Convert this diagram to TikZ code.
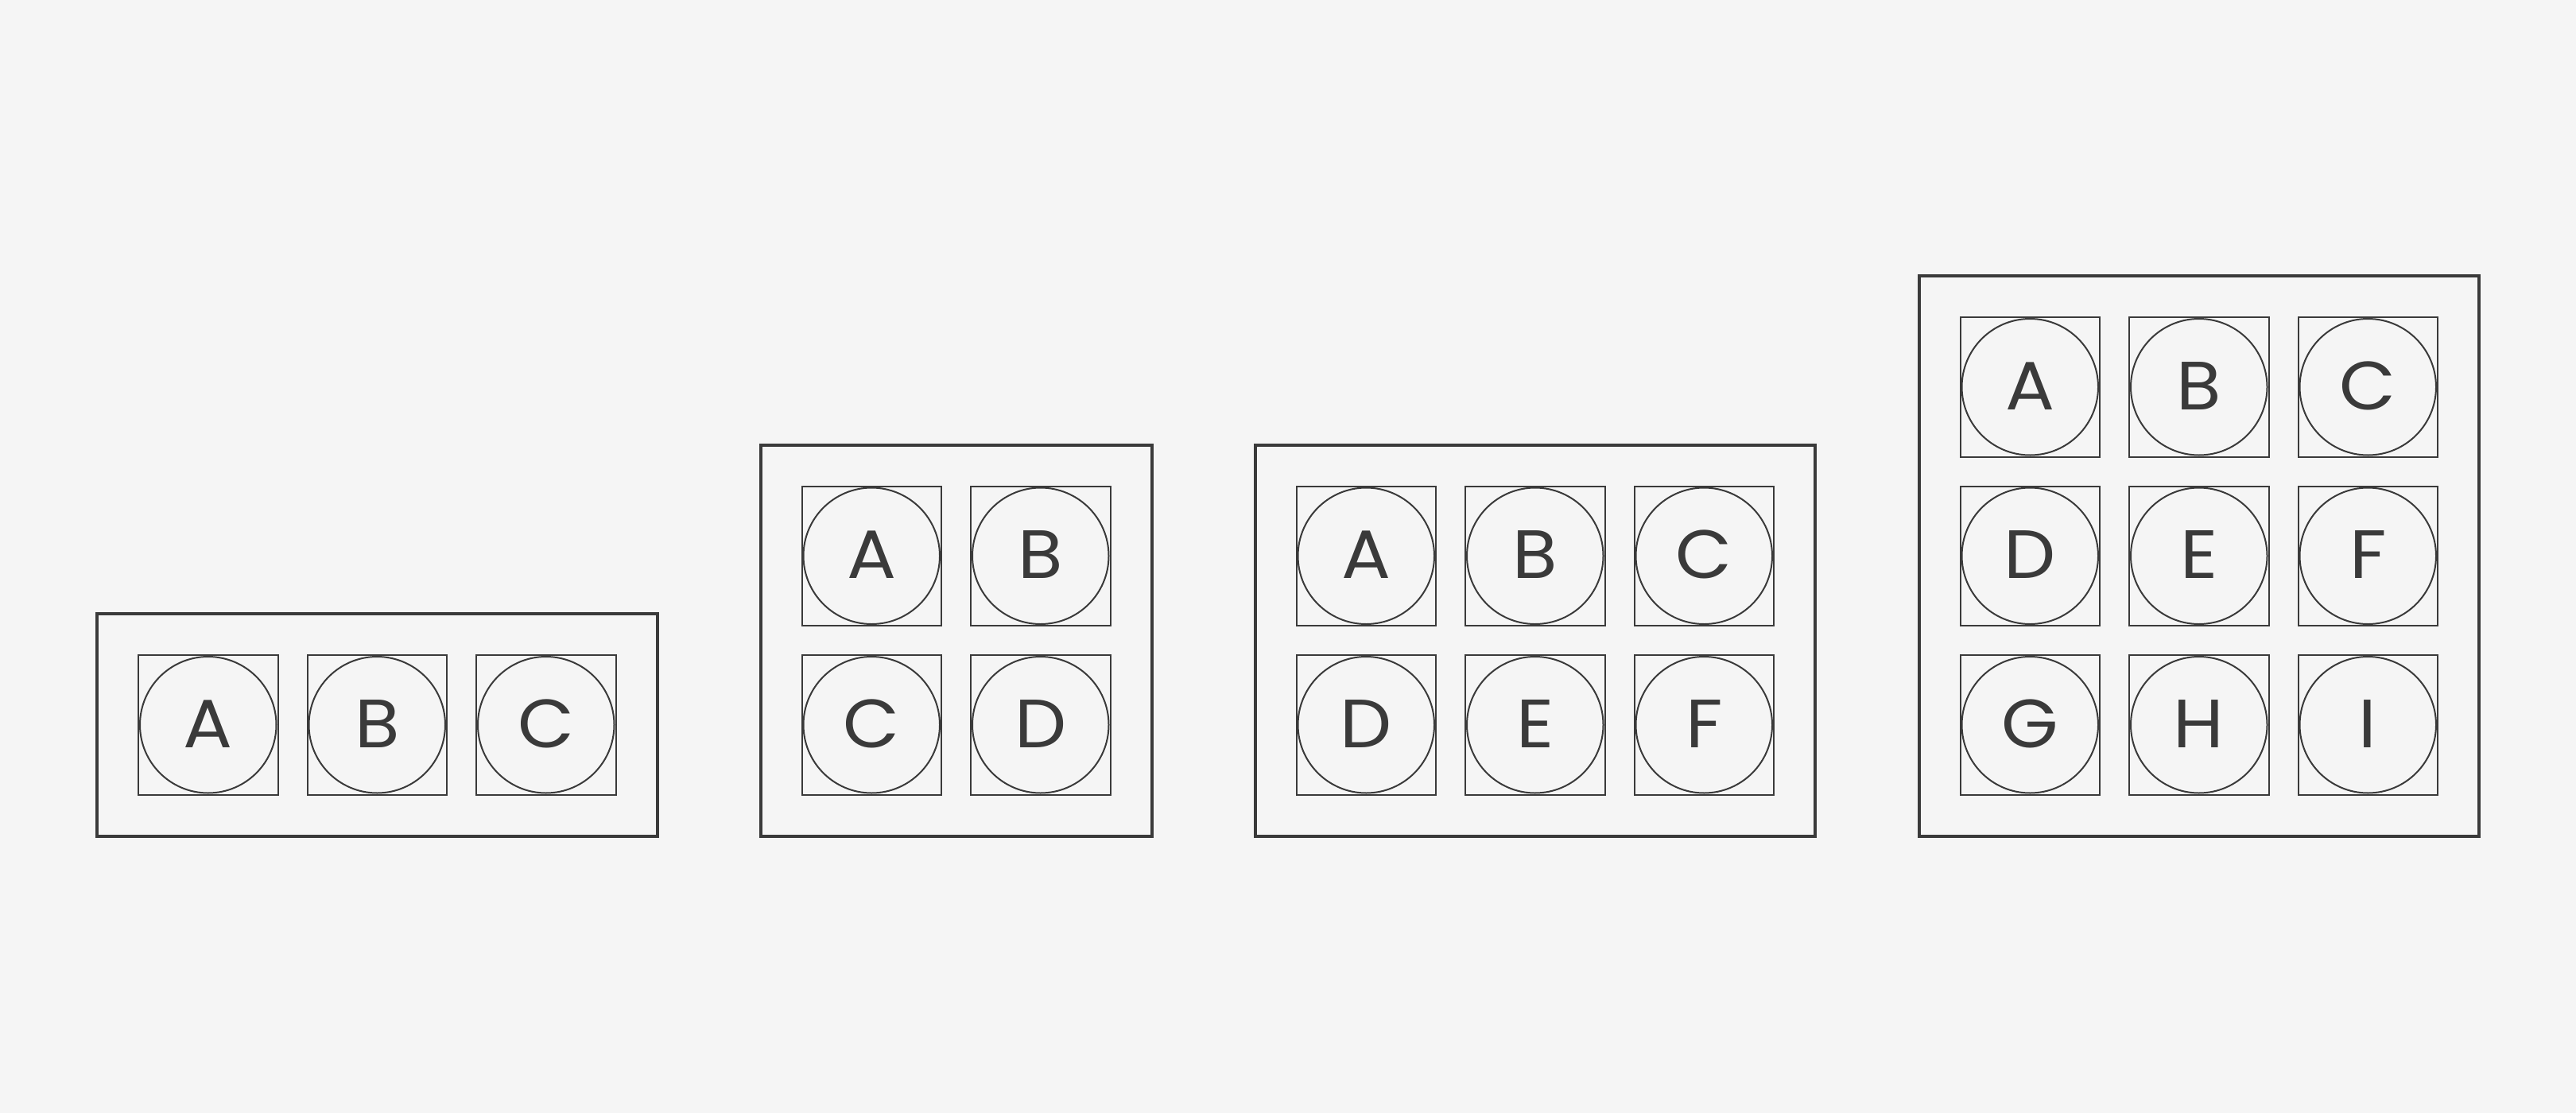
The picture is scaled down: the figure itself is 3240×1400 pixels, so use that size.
\documentclass[tikz,border=0pt]{standalone}
\usepackage{fontspec}
\setmainfont{Poppins}[FakeStretch=1.07]
\usetikzlibrary{positioning}

\definecolor{paper}{HTML}{F5F5F5}
\definecolor{ink}{HTML}{3A3A3A}

\begin{document}
\begin{tikzpicture}[x=1pt, y=-1pt,
  tray/.style={draw=ink, line width=4pt, rectangle, inner sep=0pt, outer sep=0pt},
  cellbox/.style={draw=ink, line width=2pt, rectangle, inner sep=0pt, outer sep=0pt, minimum size=175.5pt},
  well/.style={draw=ink, line width=2pt, circle, inner sep=0pt, outer sep=0pt, minimum size=171.5pt,
    text=ink, font=\fontsize{86}{86}\selectfont, text depth=0pt, text height=57pt}]

\fill[paper] (0,0) rectangle (3240,1400);
\useasboundingbox (0,0) rectangle (3240,1400);

% one row of three
\node[tray, minimum width=704.5pt, minimum height=279.5pt] (t1) at (474.25,911.75) {};
\node[cellbox] (t1a) at (261.75,911.75) {};
\node[well] (w1a) at (t1a) {A};
\node[cellbox] (t1b) at (474.25,911.75) {};
\node[well] (w1b) at (t1b) {B};
\node[cellbox] (t1c) at (686.75,911.75) {};
\node[well] (w1c) at (t1c) {C};

% two by two
\node[tray, minimum width=492pt, minimum height=492pt] (t2) at (1202.5,805.5) {};
\node[cellbox] (t2a) at (1096.25,699.25) {};
\node[well] (w2a) at (t2a) {A};
\node[cellbox] (t2b) at (1308.75,699.25) {};
\node[well] (w2b) at (t2b) {B};
\node[cellbox] (t2c) at (1096.25,911.75) {};
\node[well] (w2c) at (t2c) {C};
\node[cellbox] (t2d) at (1308.75,911.75) {};
\node[well] (w2d) at (t2d) {D};

% two rows of three
\node[tray, minimum width=704.5pt, minimum height=492pt] (t3) at (1930.75,805.5) {};
\node[cellbox] (t3a) at (1718.25,699.25) {};
\node[well] (w3a) at (t3a) {A};
\node[cellbox] (t3b) at (1930.75,699.25) {};
\node[well] (w3b) at (t3b) {B};
\node[cellbox] (t3c) at (2143.25,699.25) {};
\node[well] (w3c) at (t3c) {C};
\node[cellbox] (t3d) at (1718.25,911.75) {};
\node[well] (w3d) at (t3d) {D};
\node[cellbox] (t3e) at (1930.75,911.75) {};
\node[well] (w3e) at (t3e) {E};
\node[cellbox] (t3f) at (2143.25,911.75) {};
\node[well] (w3f) at (t3f) {F};

% three by three
\node[tray, minimum width=704.5pt, minimum height=704.5pt] (t4) at (2765.75,699.25) {};
\node[cellbox] (t4a) at (2553.25,486.75) {};
\node[well] (w4a) at (t4a) {A};
\node[cellbox] (t4b) at (2765.75,486.75) {};
\node[well] (w4b) at (t4b) {B};
\node[cellbox] (t4c) at (2978.25,486.75) {};
\node[well] (w4c) at (t4c) {C};
\node[cellbox] (t4d) at (2553.25,699.25) {};
\node[well] (w4d) at (t4d) {D};
\node[cellbox] (t4e) at (2765.75,699.25) {};
\node[well] (w4e) at (t4e) {E};
\node[cellbox] (t4f) at (2978.25,699.25) {};
\node[well] (w4f) at (t4f) {F};
\node[cellbox] (t4g) at (2553.25,911.75) {};
\node[well] (w4g) at (t4g) {G};
\node[cellbox] (t4h) at (2765.75,911.75) {};
\node[well] (w4h) at (t4h) {H};
\node[cellbox] (t4i) at (2978.25,911.75) {};
\node[well] (w4i) at (t4i) {I};

\end{tikzpicture}
\end{document}
